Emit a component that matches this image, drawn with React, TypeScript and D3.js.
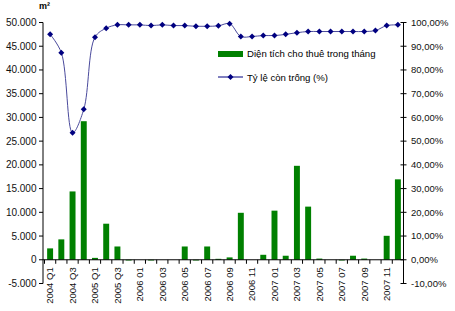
import React from "react";
import * as d3 from "d3";

const categories = [
  "2004 Q1", "2004 Q2", "2004 Q3", "2004 Q4",
  "2005 Q1", "2005 Q2", "2005 Q3", "2005 Q4",
  "2006 01", "2006 02", "2006 03", "2006 04", "2006 05", "2006 06",
  "2006 07", "2006 08", "2006 09", "2006 10", "2006 11", "2006 12",
  "2007 01", "2007 02", "2007 03", "2007 04", "2007 05", "2007 06",
  "2007 07", "2007 08", "2007 09", "2007 10", "2007 11", "2007 12",
];

const leasedArea = [
  2400, 4300, 14400, 29200,
  400, 7600, 2800, -150,
  0, -150, 0, 0, 2800, -150,
  2800, 200, 500, 9900, 0, 1050,
  10350, 850, 19800, 11200, 250, 0,
  -150, 850, 250, 0, 5050, 16950,
];

const vacancyRate = [
  95.0, 87.3, 53.5, 63.4,
  93.8, 97.6, 99.0, 99.0,
  99.0, 98.7, 99.0, 98.7, 98.7, 98.4,
  98.4, 98.6, 99.5, 94.1, 94.1, 94.5,
  94.5, 95.0, 95.7, 96.2, 96.2, 96.2,
  96.2, 96.2, 96.2, 96.6, 98.7, 99.0,
];

const leftTicks = [-5000, 0, 5000, 10000, 15000, 20000, 25000, 30000, 35000, 40000, 45000, 50000];
const rightTicks = [-10, 0, 10, 20, 30, 40, 50, 60, 70, 80, 90, 100];

const seriesNames = ["Diện tích cho thuê trong tháng", "Tỷ lệ còn trống (%)"];

const fmtLeft = (v: number) => d3.format(",")(v).replace(/,/g, ".").replace("−", "-");
const fmtRight = (v: number) => v.toFixed(2).replace(".", ",") + "%";

export default function App() {
  const W = 455, H = 311;
  const x0 = 44.5, x1 = 403.5;
  const yTop = 22.5, yBot = 283.5;
  const x = d3.scaleBand<string>().domain(categories).range([x0, x1]).padding(0);
  const yL = d3.scaleLinear().domain([-5000, 50000]).range([yBot, yTop]);
  const yR = d3.scaleLinear().domain([-10, 100]).range([yBot, yTop]);
  const step = x.bandwidth();
  const barW = step * 0.53;
  const zeroY = yL(0);
  const leftAxisX = 43;
  const rightAxisX = 403.5;
  const font = "'Liberation Sans', Arial, sans-serif";

  const cx = (i: number) => (x(categories[i]) as number) + step / 2;
  const line = d3
    .line<number>()
    .x((_, i) => cx(i))
    .y((d) => yR(d))
    .curve(d3.curveCatmullRom.alpha(0.5));

  const diamond = (px: number, py: number, r = 3) =>
    `M${px},${py - r}L${px + r},${py}L${px},${py + r}L${px - r},${py}Z`;

  return (
    <svg width={W} height={H} style={{ position: "absolute", left: 0, top: 0, background: "#fff" }} fontFamily={font}>
      <rect x={0} y={0} width={W} height={H} fill="#fff" />
      {leasedArea.map((v, i) => {
        const y1 = yL(Math.max(0, v));
        const y2 = yL(Math.min(0, v));
        return (
          <rect key={i} x={cx(i) - barW / 2} y={y1} width={barW} height={Math.max(0, y2 - y1)} fill="#008000" />
        );
      })}
      <line x1={leftAxisX} x2={rightAxisX} y1={zeroY} y2={zeroY} stroke="#000" strokeWidth={1} />
      {categories.map((c, i) => (
        <line key={"xt" + i} x1={x(c) as number} x2={x(c) as number} y1={zeroY} y2={zeroY + 4} stroke="#000" />
      ))}
      <line x1={x1} x2={x1} y1={zeroY} y2={zeroY + 4} stroke="#000" />
      {categories.map((c, i) =>
        i % 2 === 0 ? (
          <text
            key={"xl" + i}
            transform={`translate(${cx(i)},${zeroY + 7.5}) rotate(-90)`}
            textAnchor="end"
            dy="0.35em"
            fontSize={9.5}
            fill="#111"
          >
            {c}
          </text>
        ) : null
      )}
      <line x1={leftAxisX} x2={leftAxisX} y1={yTop} y2={yBot} stroke="#000" />
      {leftTicks.map((t) => (
        <g key={"lt" + t}>
          <line x1={leftAxisX - 4} x2={leftAxisX} y1={yL(t)} y2={yL(t)} stroke="#000" />
          <text x={36.5} y={yL(t)} dy="0.35em" textAnchor="end" fontSize={10} fill="#111">
            {fmtLeft(t)}
          </text>
        </g>
      ))}
      <text x={39} y={9} fontSize={9} fontWeight="bold" fill="#000">
        m²
      </text>
      <line x1={rightAxisX} x2={rightAxisX} y1={yTop} y2={yBot} stroke="#000" />
      {rightTicks.map((t) => (
        <g key={"rt" + t}>
          <line x1={rightAxisX - 3} x2={rightAxisX + 3} y1={yR(t)} y2={yR(t)} stroke="#000" />
          <text x={411} y={yR(t)} dy="0.35em" textAnchor="start" fontSize={9.5} fill="#111">
            {fmtRight(t)}
          </text>
        </g>
      ))}
      <path d={line(vacancyRate) || ""} fill="none" stroke="#4a4a9c" strokeWidth={1} />
      {vacancyRate.map((v, i) => (
        <path key={"m" + i} d={diamond(cx(i), yR(v))} fill="#000080" />
      ))}
      <rect x={218} y={51} width={25} height={6} fill="#008000" />
      <text x={247} y={57} fontSize={9.6} fill="#000">
        {seriesNames[0]}
      </text>
      <line x1={218} x2={243} y1={77} y2={77} stroke="#000080" strokeWidth={1} />
      <path d={diamond(230.5, 77)} fill="#000080" />
      <text x={247} y={80.5} fontSize={9.6} fill="#000">
        {seriesNames[1]}
      </text>
    </svg>
  );
}
